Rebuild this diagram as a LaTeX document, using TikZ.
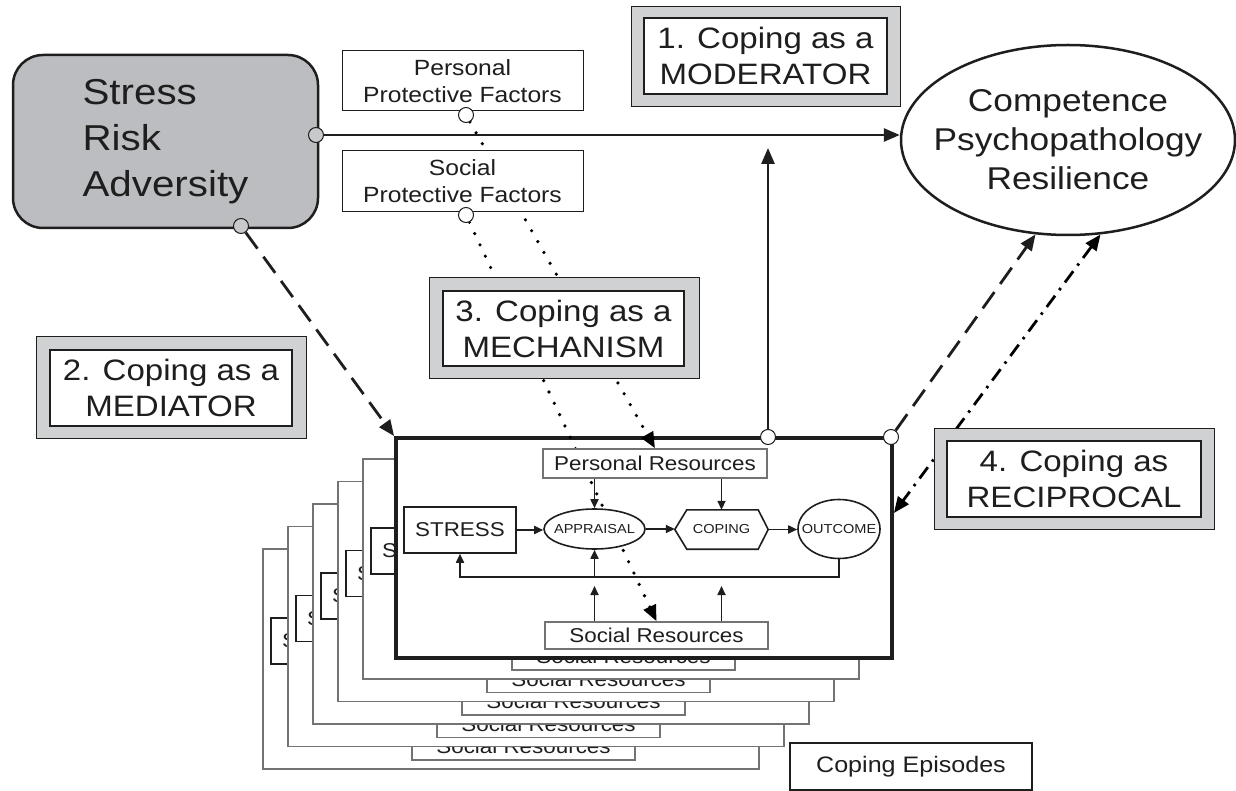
\documentclass[tikz,border=0pt]{standalone}
\usepackage{fontspec}
\setmainfont[FakeStretch=1.12]{Liberation Sans}
\usetikzlibrary{arrows.meta,shapes.geometric,calc}
\definecolor{sgray}{RGB}{188,189,192}
\definecolor{lgray}{RGB}{208,209,211}
\definecolor{ink}{RGB}{30,30,30}
\definecolor{pgray}{RGB}{115,115,115}
\definecolor{dotgray}{RGB}{200,201,203}
\pgfdeclarelayer{bg}
\pgfdeclarelayer{mid}
\pgfsetlayers{bg,mid,main}
\begin{document}
\begin{tikzpicture}[x=1pt,y=-1pt,color=ink,
  stressbox/.style={draw=ink,fill=sgray,line width=2.5pt,rounded corners=30pt,minimum width=305pt,minimum height=173pt,inner sep=0pt,align=left,font=\fontsize{36}{46}\selectfont},
  gdot/.style={circle,draw=ink,fill=dotgray,line width=1pt,minimum size=15pt,inner sep=0pt},
  wdot/.style={circle,draw=ink,fill=white,line width=1pt,minimum size=15pt,inner sep=0pt},
  pfbox/.style={draw=ink,fill=white,line width=1pt,minimum width=241pt,minimum height=60pt,inner sep=0pt,align=center,font=\fontsize{22}{27}\selectfont},
  frameo/.style={draw=ink,fill=lgray,line width=1pt,inner sep=0pt},
  framei/.style={draw=ink,fill=white,line width=1.2pt,inner sep=0pt,align=center,font=\fontsize{29.5}{36}\selectfont},
  arr/.style={line width=2.8pt,-{Triangle[length=16pt,width=13pt]}},
  dashpat/.style={dash pattern=on 20pt off 10pt},
  dotline/.style={line width=3.6pt,line cap=round,dash pattern=on 0pt off 12.5pt,-{Triangle[length=16pt,width=13pt]}},
  page/.style={draw=pgray,fill=white,line width=1.6pt,minimum width=496pt,minimum height=220pt,inner sep=0pt},
  mainbox/.style={draw=ink,fill=white,line width=3.8pt,minimum width=496pt,minimum height=220pt,inner sep=0pt},
  istress/.style={draw=ink,fill=white,line width=1.6pt,minimum width=112pt,minimum height=46pt,inner sep=0pt,font=\fontsize{20}{24}\selectfont},
  resbox/.style={draw=pgray,fill=white,line width=1.4pt,minimum height=27pt,inner sep=0pt,font=\fontsize{20}{24}\selectfont},
  iell/.style={ellipse,draw=ink,fill=white,line width=1.6pt,inner sep=0pt},
  itext/.style={inner sep=0pt,font=\fontsize{13}{15}\selectfont},
  iarr/.style={line width=1.7pt,-{Triangle[length=9pt,width=8pt]}}
]
\useasboundingbox (0,0) rectangle (1236,791);

% ---------- stacked coping episodes ----------
\begin{pgfonlayer}{bg}
\foreach \k in {5,4,3,2,1}{
  \pgfmathsetmacro\dx{-33-25*(\k-1)}
  \pgfmathsetmacro\dy{21+22.5*(\k-1)}
  \begin{scope}[shift={(\dx,\dy)}]
    \node[page] (pg\k) at (644,548) {};
    \node[istress] (pgs\k) at (460,530) {STRESS};
    \node[resbox,minimum width=223pt] (pgr\k) at (656.5,635.5) {Social Resources};
  \end{scope}
}
\node[mainbox] (main) at (644,548) {};
\end{pgfonlayer}

% ---------- top-left and top nodes ----------
\node[stressbox] (stress) at (165.5,141.5) {Stress\\Risk\\Adversity};
\node[gdot] (s1) at (316,135) {};
\node[gdot] (s2) at (241,226) {};

\node[pfbox] (ppf) at (462.5,81) {Personal\\Protective Factors};
\node[pfbox,minimum height=61pt] (spf) at (462.5,181.5) {Social\\Protective Factors};
\node[wdot] (ppfc) at (466,115) {};
\node[wdot] (spfc) at (466,215) {};

\node[ellipse,draw=ink,line width=2.5pt,fill=white,minimum width=334pt,minimum height=190pt,inner sep=0pt] (out) at (1068,140) {};
\node[inner sep=0pt,align=center,font=\fontsize{31.5}{39}\selectfont] (outt) at (1068,140) {Competence\\Psychopathology\\Resilience};

% ---------- coping labels ----------
\node[frameo,minimum width=269pt,minimum height=100pt] (modo) at (765.5,57) {};
\node[framei,minimum width=243pt,minimum height=76pt] (mod) at (765.5,56) {1. Coping as a\\MODERATOR};

\node[frameo,minimum width=270pt,minimum height=101pt] (medo) at (171,387.5) {};
\node[framei,minimum width=242pt,minimum height=76pt] (med) at (171,388) {2. Coping as a\\MEDIATOR};

\node[frameo,minimum width=270pt,minimum height=100pt] (mecho) at (564,328) {};
\node[framei,minimum width=241pt,minimum height=75pt] (mech) at (563.5,328.5) {3. Coping as a\\MECHANISM};

\node[frameo,minimum width=280pt,minimum height=101pt] (recio) at (1074,478.5) {};
\node[framei,minimum width=254pt,minimum height=76pt] (reci) at (1074,479) {4. Coping as\\RECIPROCAL};

\node[draw=ink,line width=1.2pt,minimum width=242pt,minimum height=47pt,inner sep=0pt,font=\fontsize{22.4}{26}\selectfont] (epis) at (911,766.5) {Coping Episodes};

% ---------- inside the front episode ----------
\node[resbox,minimum width=224pt,minimum height=29pt] (pres) at (655,463.5) {Personal Resources};
\node[resbox,minimum width=223pt] (sres) at (656.5,635.5) {Social Resources};
\node[istress] (istr) at (460,530) {STRESS};
\node[iell,minimum width=101pt,minimum height=40pt] (appr) at (594.5,529) {};
\node[itext] (apprt) at (appr) {APPRAISAL};
\node[inner sep=0pt,minimum width=93pt,minimum height=39pt,font=\fontsize{13}{15}\selectfont] (cop) at (721.5,529.5) {COPING};
\draw[line width=1.6pt,fill=white] (cop.west) -- ([xshift=12pt]cop.north west) -- ([xshift=-10pt]cop.north east) -- (cop.east) -- ([xshift=-10pt]cop.south east) -- ([xshift=12pt]cop.south west) -- cycle;
\node[itext] (copt) at (cop) {COPING};
\node[iell,minimum width=82pt,minimum height=59pt] (outc) at (839,529) {};
\node[itext] (outct) at (outc) {OUTCOME};

\coordinate (lp) at (460,577);
\draw[iarr] (istr.east) -- (istr.east -| appr.west);
\draw[iarr] (appr.east) -- (appr.east -| cop.west);
\draw[iarr] (cop.east) -- (cop.east -| outc.west);
\draw[iarr] (pres.south -| appr.north) -- (appr.north);
\draw[iarr] (pres.south -| cop.north) -- (cop.north);
\draw[iarr] (outc.south) |- (lp) -- (istr.south);
\draw[iarr] (appr.south |- lp) -- (appr.south);
\draw[iarr] (sres.north -| appr.south) -- ([yshift=-9pt]appr.south |- lp);
\draw[iarr] (sres.north -| cop.south) -- ([yshift=-9pt]cop.south |- lp);

% ---------- main connectors ----------
\node[wdot] (c1) at (768,437) {};
\node[wdot] (c2) at (891,437) {};
\coordinate (modtip) at (768,148);

\draw[arr] (s1.east) -- (s1 -| out.west);
\draw[arr] (c1) -- (modtip);
\draw[arr,dashpat] (s2) -- (main.north west);
\draw[arr,dashpat] (c2) -- (out.251);

\begin{pgfonlayer}{mid}
\draw[dotline] (ppfc) -- (pres.north);
\draw[dotline] (spfc) -- (sres.north);
\draw[line width=2.8pt,dash pattern=on 14pt off 7pt on 2.5pt off 7pt,{Triangle[length=16pt,width=13pt]}-{Triangle[length=16pt,width=13pt]}] (out.289) -- ([yshift=35pt]main.east);
\end{pgfonlayer}
\end{tikzpicture}
\end{document}
